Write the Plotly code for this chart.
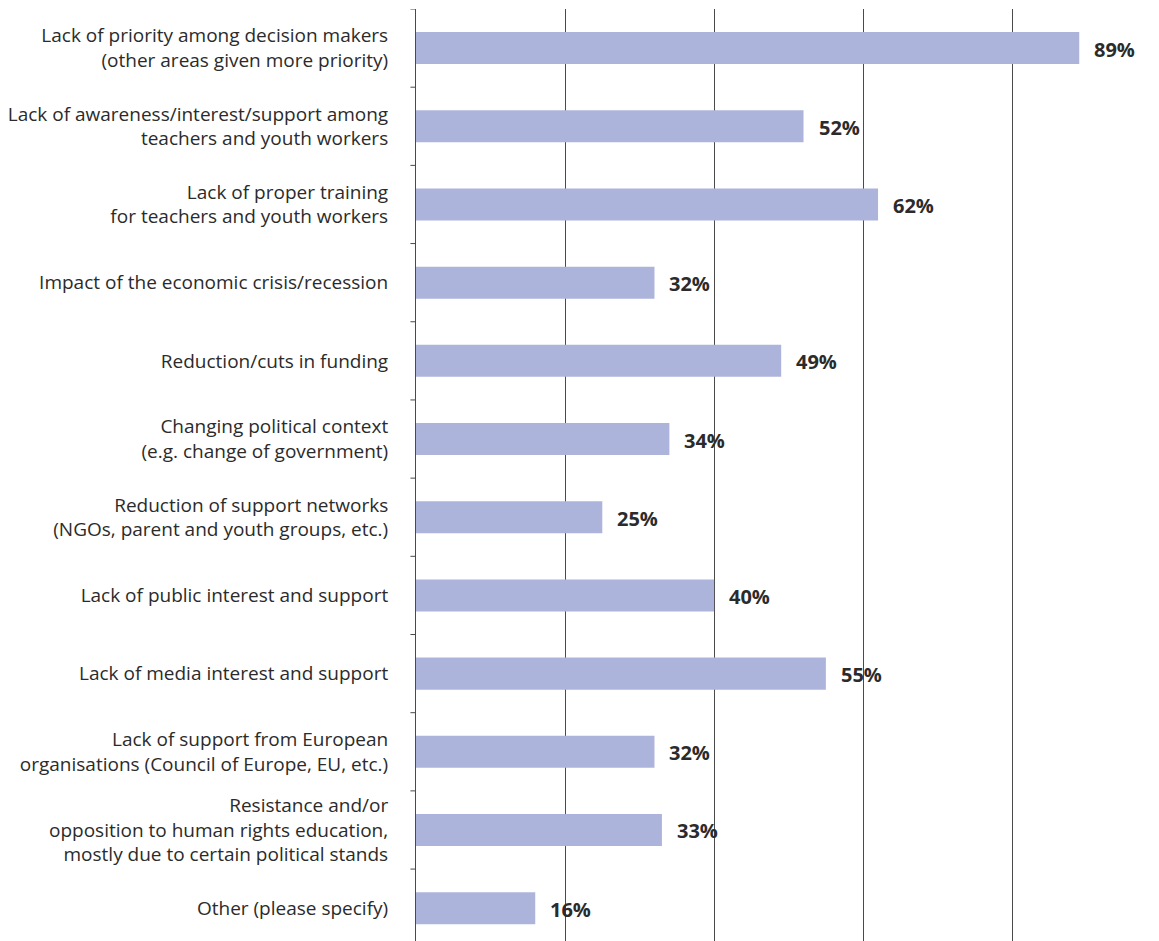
import plotly.graph_objects as go

categories = [
    "Lack of priority among decision makers<br>(other areas given more priority)",
    "Lack of awareness/interest/support among<br>teachers and youth workers",
    "Lack of proper training<br>for teachers and youth workers",
    "Impact of the economic crisis/recession",
    "Reduction/cuts in funding",
    "Changing political context<br>(e.g. change of government)",
    "Reduction of support networks<br>(NGOs, parent and youth groups, etc.)",
    "Lack of public interest and support",
    "Lack of media interest and support",
    "Lack of support from European<br>organisations (Council of Europe, EU, etc.)",
    "Resistance and/or<br>opposition to human rights education,<br>mostly due to certain political stands",
    "Other (please specify)",
]
values = [89, 52, 62, 32, 49, 34, 25, 40, 55, 32, 33, 16]

TEXT = "#2b2b2b"
LINE = "#4a4a4a"

fig = go.Figure(
    go.Bar(
        x=values,
        y=list(range(len(categories))),
        orientation="h",
        width=0.41,
        marker=dict(color="#adb4dc", line=dict(width=0)),
        hoverinfo="skip",
    )
)

# value labels to the right of each bar
for i, v in enumerate(values):
    fig.add_annotation(
        x=v, y=i, text=f"<b>{v}%</b>", showarrow=False,
        xanchor="left", xshift=13, yshift=-1,
        font=dict(family="Open Sans", size=20, color=TEXT),
    )

fig.update_layout(
    width=1159, height=941,
    margin=dict(l=416, r=0, t=9, b=0),
    paper_bgcolor="white", plot_bgcolor="white",
    showlegend=False,
    font=dict(family="Open Sans", size=19, color=TEXT),
)
fig.update_xaxes(
    range=[0, 99.7], dtick=20, tick0=0,
    showgrid=True, gridcolor=LINE, gridwidth=1,
    showticklabels=False, zeroline=False, showline=False,
)
fig.update_yaxes(
    range=[11.42, -0.5],
    tickmode="array",
    tickvals=list(range(len(categories))),
    ticktext=categories,
    showgrid=False, zeroline=False,
    showline=True, linecolor=LINE, linewidth=1,
    ticks="", ticklabelstandoff=23,
)
# tick marks at category boundaries on the left axis
for k in range(len(categories)):
    fig.add_shape(
        type="line", xref="paper", yref="y",
        x0=-0.0075, x1=0, y0=k - 0.5, y1=k - 0.5,
        line=dict(color=LINE, width=1),
    )

fig.write_html("out.html")
